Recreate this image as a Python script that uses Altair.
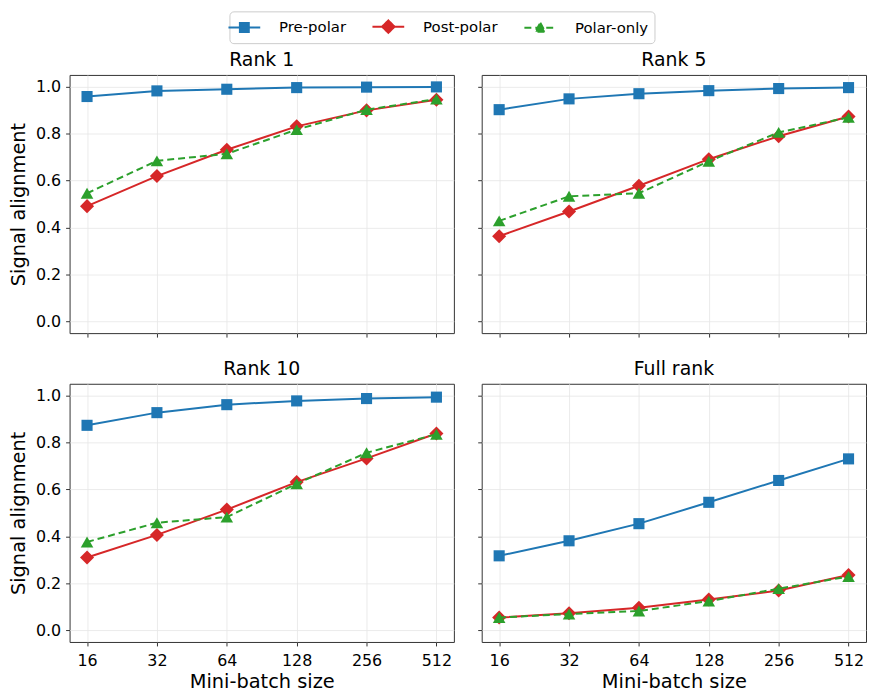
import altair as alt
import pandas as pd

batch_sizes = [16, 32, 64, 128, 256, 512]
panel_titles = ["Rank 1", "Rank 5", "Rank 10", "Full rank"]
series_names = ["Pre-polar", "Post-polar", "Polar-only"]

rank1_pre = [0.958, 0.982, 0.989, 0.996, 0.998, 0.999]
rank1_post = [0.491, 0.619, 0.731, 0.831, 0.899, 0.944]
rank1_polar = [0.546, 0.684, 0.714, 0.817, 0.902, 0.947]

rank5_pre = [0.902, 0.948, 0.970, 0.983, 0.992, 0.996]
rank5_post = [0.363, 0.468, 0.578, 0.691, 0.789, 0.873]
rank5_polar = [0.428, 0.533, 0.546, 0.682, 0.805, 0.869]

rank10_pre = [0.873, 0.927, 0.961, 0.977, 0.987, 0.993]
rank10_post = [0.310, 0.406, 0.514, 0.631, 0.732, 0.838]
rank10_polar = [0.376, 0.458, 0.482, 0.624, 0.756, 0.835]

full_pre = [0.317, 0.381, 0.454, 0.545, 0.638, 0.730]
full_post = [0.054, 0.072, 0.096, 0.131, 0.169, 0.235]
full_polar = [0.054, 0.069, 0.082, 0.124, 0.177, 0.229]

values = {
    "Rank 1": [rank1_pre, rank1_post, rank1_polar],
    "Rank 5": [rank5_pre, rank5_post, rank5_polar],
    "Rank 10": [rank10_pre, rank10_post, rank10_polar],
    "Full rank": [full_pre, full_post, full_polar],
}

rows = []
for p in panel_titles:
    for s, vals in zip(series_names, values[p]):
        for b, v in zip(batch_sizes, vals):
            rows.append({"panel": p, "series": s, "batch": b, "value": v})
df = pd.DataFrame(rows)

colors = ["#1f77b4", "#d62728", "#2ca02c"]
shapes = ["square", "diamond", "triangle-up"]
sizes = [125, 200, 160]
dashes = [None, None, [7, 4]]
legend_paths = [
    "M-2,0H2M-0.56,-0.56H0.56V0.56H-0.56Z",
    "M-2,0H2M0,-0.78L0.78,0L0,0.78L-0.78,0Z",
    "M-2,0H2M0,-0.62L0.62,0.5L-0.62,0.5Z",
]
FONT = "DejaVu Sans"
PANEL_W = 387
PANEL_H = 260


def make_panel(title, row, col):
    bottom = row == 1
    left = col == 0
    x = alt.X(
        "batch:Q",
        scale=alt.Scale(type="log", base=2, domain=[13.454, 608.87], nice=False),
        axis=alt.Axis(values=batch_sizes, format="d", labels=bottom, grid=True),
        title="Mini-batch size" if bottom else None,
    )
    y = alt.Y(
        "value:Q",
        scale=alt.Scale(domain=[-0.05, 1.05], nice=False, zero=False),
        axis=alt.Axis(values=[0, 0.2, 0.4, 0.6, 0.8, 1.0], format=".1f", labels=left, grid=True),
        title="Signal alignment" if left else None,
    )
    base = alt.Chart(df).transform_filter(alt.datum.panel == title)
    layers = []
    for i, s in enumerate(series_names):
        sb = base.transform_filter(alt.datum.series == s)
        if dashes[i]:
            line = sb.mark_line(color=colors[i], strokeWidth=2, strokeDash=dashes[i])
        else:
            line = sb.mark_line(color=colors[i], strokeWidth=2)
        pts = sb.mark_point(filled=True, shape=shapes[i], size=sizes[i], color=colors[i], opacity=1)
        layers.append(line.encode(x=x, y=y))
        layers.append(pts.encode(x=x, y=y))
    if row == 0 and col == 0:
        # legend-only layer: its points sit outside the x domain and are clipped away
        leg_df = pd.DataFrame({"series": series_names, "batch": [4096] * 3, "value": [0.5] * 3})
        leg = alt.Chart(leg_df).mark_point(filled=True, clip=True, strokeWidth=2, opacity=1).encode(
            x=x,
            y=y,
            fill=alt.Fill(
                "series:N",
                scale=alt.Scale(domain=series_names, range=colors),
                legend=alt.Legend(
                    orient="none", legendX=161, legendY=-64, direction="horizontal",
                    title=None, symbolStrokeWidth=2, symbolSize=256, symbolOpacity=1,
                    labelOffset=26, columnPadding=22,
                ),
            ),
            stroke=alt.Stroke("series:N", scale=alt.Scale(domain=series_names, range=colors)),
            shape=alt.Shape("series:N", scale=alt.Scale(domain=series_names, range=legend_paths)),
            strokeDash=alt.StrokeDash(
                "series:N", scale=alt.Scale(domain=series_names, range=[[1, 0], [1, 0], [7, 4]])
            ),
        )
        layers.insert(0, leg)
    return alt.layer(*layers).properties(width=PANEL_W, height=PANEL_H, title=title)


top = alt.hconcat(make_panel("Rank 1", 0, 0), make_panel("Rank 5", 0, 1), spacing=22)
bot = alt.hconcat(make_panel("Rank 10", 1, 0), make_panel("Full rank", 1, 1), spacing=22)

chart = (
    alt.vconcat(top, bot, spacing=21)
    .properties(padding={"left": 0, "top": 0, "right": 0, "bottom": 0}, background="white")
    .configure_view(stroke="#333333", strokeWidth=1)
    .configure_axis(
        labelFont=FONT, labelFontSize=16, labelColor="black",
        titleFont=FONT, titleFontSize=19.5, titleFontWeight="normal", titleColor="black",
        gridColor="#e6e6e6", gridWidth=0.8, tickColor="#333333", tickSize=4, tickWidth=1,
        domain=False,
    )
    .configure_axisX(labelPadding=7, titlePadding=4)
    .configure_axisY(labelPadding=5, titlePadding=7)
    .configure_title(font=FONT, fontSize=19, fontWeight="normal", color="black", offset=5)
    .configure_legend(
        labelFont=FONT, labelFontSize=15, labelColor="black",
        padding=6, strokeColor="#cccccc", cornerRadius=4, fillColor="white",
    )
)

chart.save("out.html", embed_options={"renderer": "svg", "actions": False})
